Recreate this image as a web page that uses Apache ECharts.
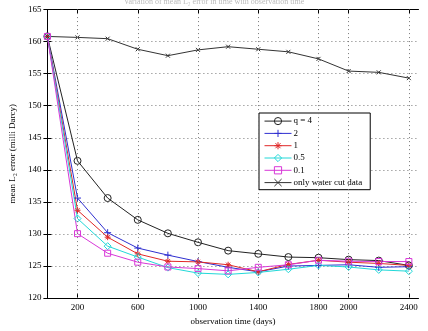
<!DOCTYPE html>
<html><head><meta charset="utf-8">
<script src="https://cdn.jsdelivr.net/npm/echarts@6/dist/echarts.min.js"></script>
<style>html,body{margin:0;padding:0;background:#fff}#c{width:428px;height:331px}</style>
</head><body><div id="c"></div>
<script>
const days = [0, 200, 400, 600, 800, 1000, 1200, 1400, 1600, 1800, 2000, 2200, 2400];
const q4 = [160.8, 141.4, 135.6, 132.2, 130.1, 128.7, 127.4, 126.9, 126.4, 126.3, 126.0, 125.85, 125.1];
const q2 = [160.8, 135.6, 130.2, 127.8, 126.7, 125.7, 124.8, 124.1, 125.0, 125.1, 125.2, 124.8, 124.9];
const q1 = [160.8, 133.7, 129.5, 126.9, 125.75, 125.65, 125.2, 124.1, 125.25, 125.9, 125.6, 125.4, 125.1];
const q05 = [160.8, 132.4, 128.1, 126.4, 124.75, 123.9, 123.7, 124.0, 124.5, 125.1, 124.85, 124.4, 124.2];
const q01 = [160.8, 130.05, 127.0, 125.6, 124.85, 124.6, 124.25, 124.8, 125.2, 125.9, 125.75, 125.7, 125.7];
const waterCut = [160.8, 160.65, 160.45, 158.8, 157.8, 158.7, 159.2, 158.8, 158.4, 157.3, 155.4, 155.2, 154.3];
const xTicks = [200, 600, 1000, 1400, 1800, 2000, 2400];
const seriesNames = ['q = 4', '2', '1', '0.5', '0.1', 'only water cut data'];
const titleText = 'Variation of mean L\u2082 error in time with observation time';

const F = 'Liberation Serif, Times New Roman, serif';
const PLUS = 'path://M0,-5L0,5M-5,0L5,0';
const STAR = 'path://M0,-5L0,5M-5,0L5,0M-3.5,-3.5L3.5,3.5M-3.5,3.5L3.5,-3.5';
const CROSS = 'path://M-5,-5L5,5M-5,5L5,-5';
const GRID_DOT = {color: '#777', type: [1, 3], width: 1};

function mk(name, data, color, symbol, size) {
  return {
    name, type: 'line', data: days.map((d, i) => [d, data[i]]),
    symbol, symbolSize: size, showSymbol: true,
    lineStyle: {color, width: 1},
    itemStyle: {color: 'none', borderColor: color, borderWidth: 1},
    emphasis: {disabled: true}, animation: false, z: 3
  };
}
const axisLine = {show: true, lineStyle: {color: '#000', width: 1}};
const chart = echarts.init(document.getElementById('c'), null, {renderer: 'canvas'});
chart.setOption({
  animation: false,
  backgroundColor: '#fff',
  title: {text: titleText, left: 'center', top: -7, textStyle: {fontFamily: F, fontSize: 8, color: '#bbb', fontWeight: 'normal'}},
  grid: {left: 32, right: 9.5, top: 9.5, bottom: 25, containLabel: false},
  legend: {
    left: 259, top: 113, orient: 'vertical',
    padding: [2, 8, 1, 5], itemGap: 0.1, itemWidth: 27, itemHeight: 9,
    borderColor: '#000', borderWidth: 1, backgroundColor: '#fff',
    lineStyle: {width: 1}, itemStyle: {borderWidth: 1},
    textStyle: {fontFamily: F, fontSize: 9, lineHeight: 9, color: '#000', padding: [0, 0, 0, -3]},
    data: seriesNames
  },
  xAxis: [{
    type: 'value', min: 0, max: 2464, position: 'bottom',
    name: 'observation time (days)', nameLocation: 'middle', nameGap: 14,
    nameTextStyle: {fontFamily: F, fontSize: 9, color: '#000'},
    axisLine, axisTick: {show: true, inside: true, length: 4, customValues: xTicks, lineStyle: {color: '#000'}},
    axisLabel: {customValues: xTicks, formatter: v => String(v), fontFamily: F, fontSize: 9, color: '#000', margin: 5},
    splitLine: {show: false}
  }, {
    type: 'value', min: 0, max: 2464, position: 'top',
    axisLine, axisTick: {show: true, inside: true, length: 4, customValues: xTicks, lineStyle: {color: '#000'}},
    axisLabel: {show: false, customValues: xTicks}, splitLine: {show: false}
  }],
  yAxis: [{
    type: 'value', min: 120, max: 165, interval: 5, position: 'left',
    name: 'mean L\u2082 error (milli Darcy)', nameLocation: 'middle', nameGap: 20,
    nameTextStyle: {fontFamily: F, fontSize: 9, color: '#000'},
    axisLine, axisTick: {show: true, inside: true, length: 4, lineStyle: {color: '#000'}},
    axisLabel: {fontFamily: F, fontSize: 9, color: '#000', margin: 6},
    splitLine: {show: true, lineStyle: GRID_DOT}
  }, {
    type: 'value', min: 120, max: 165, interval: 5, position: 'right',
    axisLine, axisTick: {show: true, inside: true, length: 4, lineStyle: {color: '#000'}},
    axisLabel: {show: false}, splitLine: {show: false}
  }],
  series: [
    {
      type: 'line', data: [], silent: true, z: 1,
      markLine: {
        silent: true, symbol: 'none', animation: false, label: {show: false},
        lineStyle: GRID_DOT,
        data: xTicks.map(v => ({xAxis: v}))
      }
    },
    mk(seriesNames[0], q4, '#222', 'circle', 7),
    mk(seriesNames[1], q2, '#2f2fd0', PLUS, 7),
    mk(seriesNames[2], q1, '#e02828', STAR, 6),
    mk(seriesNames[3], q05, '#22d8d8', 'diamond', 7),
    mk(seriesNames[4], q01, '#d838d8', 'rect', 6),
    mk(seriesNames[5], waterCut, '#333', CROSS, 4)
  ]
});
</script></body></html>
